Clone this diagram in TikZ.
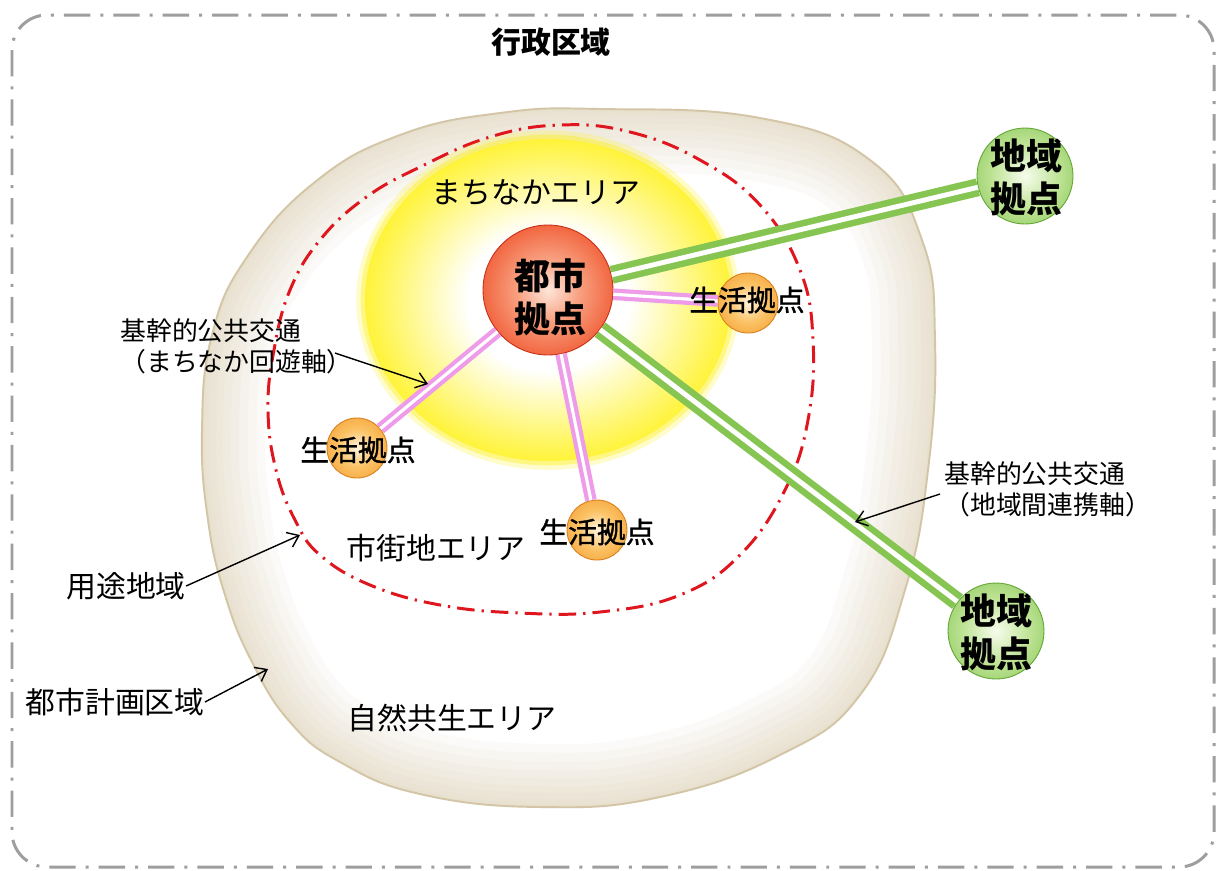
\documentclass[tikz,border=0pt]{standalone}
\usepackage{fontspec}
\setmainfont{Noto Sans CJK JP}
\newfontfamily\medfont{Noto Sans CJK JP}[FakeBold=1.2]
\usetikzlibrary{arrows.meta}
\definecolor{framegray}{HTML}{9E9E9E}
\definecolor{blobrim}{HTML}{D3C5A6}
\definecolor{blobband}{HTML}{DCCFB3}
\definecolor{zonered}{HTML}{E0161F}
\definecolor{sunyellow}{HTML}{FFF000}
\definecolor{axisgreen}{HTML}{86C552}
\definecolor{axispink}{HTML}{EE9BEA}
\definecolor{rc0}{HTML}{FDE6DA}
\definecolor{rc1}{HTML}{F8A080}
\definecolor{rc2}{HTML}{EF5129}
\definecolor{rc3}{HTML}{E8391A}
\definecolor{oc0}{HTML}{FFF3DC}
\definecolor{oc1}{HTML}{FBC264}
\definecolor{oc2}{HTML}{F08E1E}
\definecolor{gc0}{HTML}{F6FCEC}
\definecolor{gc1}{HTML}{BCE292}
\definecolor{gc2}{HTML}{6CB838}
\pgfdeclareradialshading{sundisk}{\pgfpoint{0bp}{0bp}}{color(0bp)=(white); color(11bp)=(white); color(29bp)=(sunyellow); color(50bp)=(sunyellow); color(80bp)=(sunyellow)}
\pgfdeclareradialshading{redball}{\pgfpoint{0bp}{0bp}}{color(0bp)=(rc0); color(12bp)=(rc1); color(30bp)=(rc2); color(50bp)=(rc3); color(80bp)=(rc3)}
\pgfdeclareradialshading{orangeball}{\pgfpoint{0bp}{0bp}}{color(0bp)=(oc0); color(16bp)=(oc1); color(42bp)=(oc2); color(80bp)=(oc2)}
\pgfdeclareradialshading{greenball}{\pgfpoint{0bp}{0bp}}{color(0bp)=(gc0); color(18bp)=(gc1); color(44bp)=(gc2); color(80bp)=(gc2)}
\newcommand\blobshape[1]{\path[#1] plot[smooth cycle, tension=0.75] coordinates {(600,109) (760,118) (870,160) (922,240) (935,340) (928,470) (905,590) (860,695) (780,755) (660,797) (540,807) (420,794) (340,762) (290,722) (252,662) (225,595) (208,520) (202,430) (212,335) (247,257) (315,182) (400,135) (500,113)};}
\begin{document}
\begin{tikzpicture}[x=0.02cm, y=-0.02cm,
  lbl/.style={font=\fontsize{17pt}{20pt}\selectfont, inner sep=0pt},
  smalllbl/.style={font=\fontsize{14.7pt}{17.6pt}\selectfont, inner sep=0pt, align=left},
  titletxt/.style={font=\bfseries\fontsize{17pt}{20pt}\selectfont, inner sep=0pt},
  hubtxt/.style={font=\bfseries\fontsize{20.4pt}{24.4pt}\selectfont, align=center, inner sep=0pt},
  lifetxt/.style={font=\medfont\fontsize{16.4pt}{19pt}\selectfont, inner sep=0pt},
  hub/.style={circle, inner sep=0pt, shade, line width=0.5pt},
  greenaxis/.style={draw=axisgreen, double=white, line width=3.7pt, double distance=2.8pt},
  pinkaxis/.style={draw=axispink, double=white, line width=2.4pt, double distance=1.8pt},
  pointer/.style={draw=black, line width=0.8pt, -{Straight Barb[length=6pt,width=9pt]}}]
\useasboundingbox (0,0) rectangle (1217,870);
\fill[white] (0,0) rectangle (1217,870);
% administrative area frame
\draw[framegray, line width=1.7pt, dash pattern=on 15pt off 5.7pt on 1.7pt off 5.7pt, rounded corners=0.7cm] (12,15) rectangle (1214,867);
\node[titletxt] (title) at (551,42) {行政区域};
% city planning area
\blobshape{fill=white}
\begin{scope}
  \blobshape{clip}
  \foreach \w in {72,62,52,42,33,24,16,9,4}{
    \blobshape{draw=blobband, opacity=0.09, line width=\w pt}
  }
\end{scope}
\blobshape{draw=blobrim, line width=1.1pt}
% use district boundary
\draw[zonered, line width=1.7pt, dash pattern=on 10pt off 4pt on 1.3pt off 4pt]
  plot[smooth cycle, tension=0.7] coordinates {(560,125) (630,132) (700,160) (760,205) (800,270) (813,340) (808,420) (785,490) (740,555) (680,595) (600,612) (520,613) (440,605) (370,585) (320,555) (295,520) (276,470) (268,410) (274,350) (290,290) (320,240) (365,198) (420,167) (490,137)};
% machinaka area
\draw[sunyellow, opacity=0.2, line width=10pt] (548,300) ellipse [x radius=183, y radius=161];
\draw[sunyellow, opacity=0.35, line width=5pt] (548,300) ellipse [x radius=183, y radius=161];
\shade[shading=sundisk] (548,300) ellipse [x radius=183, y radius=161];
% hubs
\node[hub, shading=redball, draw=rc3!85!black, minimum size=2.6cm] (city) at (548,290) {};
\node[hub, shading=orangeball, draw=oc2!90!black, minimum size=1.2cm] (life1) at (748,303) {};
\node[hub, shading=orangeball, draw=oc2!90!black, minimum size=1.2cm] (life2) at (357,448) {};
\node[hub, shading=orangeball, draw=oc2!90!black, minimum size=1.2cm] (life3) at (597,530) {};
\node[hub, shading=greenball, draw=gc2!90!black, minimum size=1.92cm] (reg1) at (1025,176) {};
\node[hub, shading=greenball, draw=gc2!90!black, minimum size=1.92cm] (reg2) at (996,631) {};
% axes
\draw[greenaxis] (city) -- (reg1);
\draw[greenaxis] (city) -- (reg2);
\draw[pinkaxis] (city) -- (life1);
\draw[pinkaxis] (city) -- (life2);
\draw[pinkaxis] (city) -- (life3);
% hub texts
\node[hubtxt] (citytxt) at (550,297) {都市\\拠点};
\node[hubtxt] (reg1txt) at (1026,177) {地域\\拠点};
\node[hubtxt] (reg2txt) at (996,632) {地域\\拠点};
\node[lifetxt] (life1txt) at (747,300) {生活拠点};
\node[lifetxt] (life2txt) at (358,450) {生活拠点};
\node[lifetxt] (life3txt) at (597,532) {生活拠点};
% area labels
\node[lbl] (machinaka) at (536,192) {まちなかエリア};
\node[lbl] (shigaichi) at (436,548) {市街地エリア};
\node[lbl] (shizen) at (452,718) {自然共生エリア};
\node[lbl] (youto) at (126,586) {用途地域};
\node[lbl] (toshikei) at (115,702) {都市計画区域};
\node[smalllbl, anchor=west] (kanjiA) at (120,346) {基幹的公共交通\\（まちなか回遊軸）};
\node[smalllbl, anchor=west] (kanjiB) at (944,489) {基幹的公共交通\\（地域間連携軸）};
% pointers
\coordinate (youtotip) at (300,535);
\coordinate (toshitip) at (268,669);
\coordinate (kanjiAstart) at (335,353);
\coordinate (kanjiAtip) at (428,384);
\coordinate (kanjiBstart) at (940,494);
\coordinate (kanjiBtip) at (855,522);
\draw[pointer] (youto.east) -- (youtotip);
\draw[pointer] (toshikei.east) -- (toshitip);
\draw[pointer] (kanjiAstart) -- (kanjiAtip);
\draw[pointer] (kanjiBstart) -- (kanjiBtip);
\end{tikzpicture}
\end{document}
